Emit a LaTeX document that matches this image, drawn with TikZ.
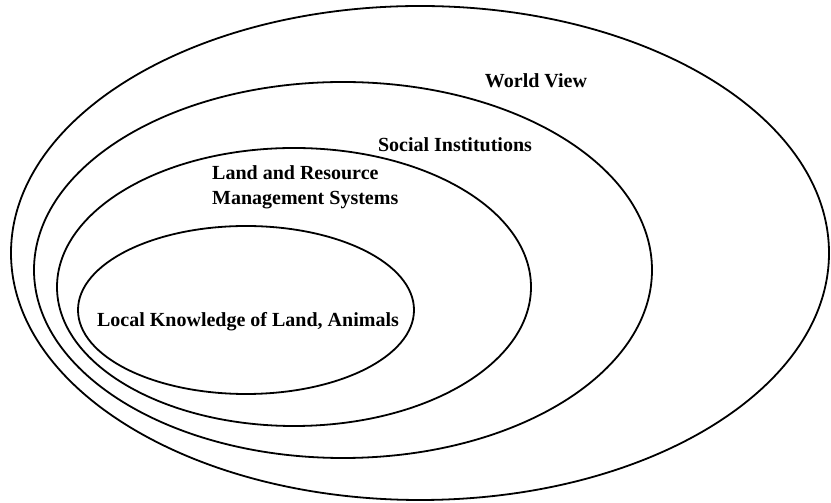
\documentclass[tikz,border=0pt]{standalone}
\usepackage{fontspec}
\setmainfont{Liberation Serif}
\usetikzlibrary{positioning}
\tikzset{
  ring/.style={black, line width=1.8pt},
  lbl/.style={font=\fontsize{20}{25}\selectfont\bfseries, inner sep=0pt},
}

\begin{document}
\begin{tikzpicture}[x=1pt,y=1pt]
\useasboundingbox (0,0) rectangle (831,503);
% nested layers, outermost first
\draw[ring] (420,250) ellipse [x radius=409, y radius=247];
\draw[ring] (343,233) ellipse [x radius=309, y radius=188];
\draw[ring] (294,216) ellipse [x radius=237, y radius=139];
\draw[ring] (246,193) ellipse [x radius=168, y radius=84];
\node[lbl] (world) at (536,422) {World View};
\node[lbl] (social) at (455,358) {Social Institutions};
\node[lbl, anchor=west, align=left] (land) at (212,316)
  {Land and Resource\\Management Systems};
\node[lbl] (local) at (248,181) {Local Knowledge of Land, Animals};
\end{tikzpicture}
\end{document}
